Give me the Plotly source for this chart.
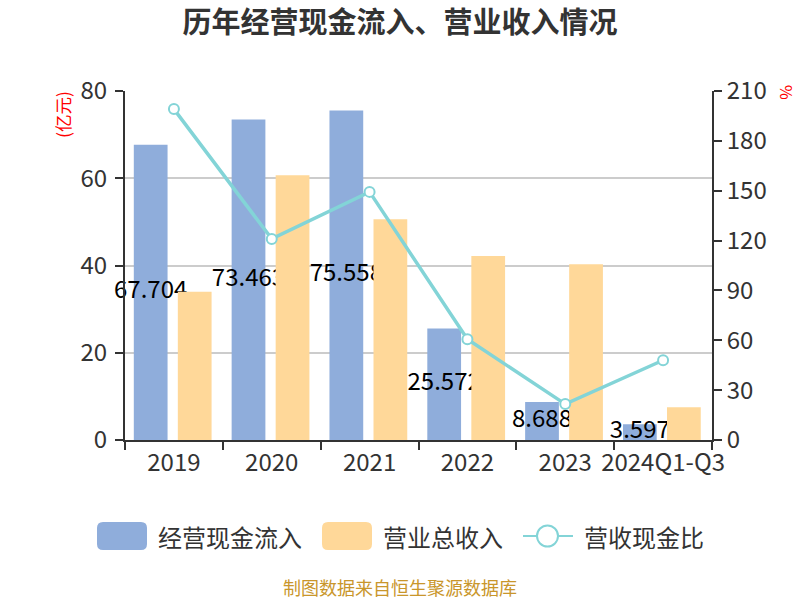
import plotly.graph_objects as go

categories = ["2019", "2020", "2021", "2022", "2023", "2024Q1-Q3"]
cash_inflow = [67.704, 73.463, 75.558, 25.572, 8.688, 3.597]
revenue = [34.0, 60.7, 50.6, 42.2, 40.3, 7.5]
ratio = [199.1, 121.0, 149.3, 60.6, 21.6, 48.0]

BLUE = "#8faddb"
ORANGE = "#ffd899"
TEAL = "#83d4d7"
FONT = "Noto Sans CJK SC"
AXIS = "#333333"

idx = list(range(len(categories)))
BAR_W = 0.345

fig = go.Figure()

fig.add_trace(go.Bar(
    x=idx, y=cash_inflow, width=BAR_W, offset=-0.41,
    marker=dict(color=BLUE, line=dict(width=0)), name="经营现金流入",
    yaxis="y", showlegend=False,
))
fig.add_trace(go.Scatter(
    x=[i - 0.41 + BAR_W / 2 for i in idx], y=[v / 2 for v in cash_inflow],
    text=[f"{v:g}" for v in cash_inflow], mode="text",
    textfont=dict(size=24, color="#000000", family=FONT),
    textposition="middle center", yaxis="y", showlegend=False, cliponaxis=False,
    hoverinfo="skip",
))
fig.add_trace(go.Bar(
    x=idx, y=revenue, width=BAR_W, offset=0.04,
    marker=dict(color=ORANGE, line=dict(width=0)), name="营业总收入",
    yaxis="y2", showlegend=False,
))
fig.add_trace(go.Scatter(
    x=idx, y=ratio, mode="lines+markers", name="营收现金比",
    line=dict(color=TEAL, width=3.5),
    marker=dict(symbol="circle", size=10, color="#ffffff", line=dict(color=TEAL, width=2)),
    yaxis="y3", showlegend=False, cliponaxis=False,
))

L, R, T, B = 125, 88, 91, 160
PW, PH = 800 - L - R, 600 - T - B


def px(x):
    return (x - L) / PW


def py(y):
    return (600 - B - y) / PH


def rrect(x0, y0, x1, y1, r):
    rx, ry = r / PW, r / PH
    X0, X1 = px(x0), px(x1)
    Yt, Yb = py(y0), py(y1)
    return (f"M{X0+rx},{Yt} L{X1-rx},{Yt} Q{X1},{Yt} {X1},{Yt-ry} "
            f"L{X1},{Yb+ry} Q{X1},{Yb} {X1-rx},{Yb} L{X0+rx},{Yb} "
            f"Q{X0},{Yb} {X0},{Yb+ry} L{X0},{Yt-ry} Q{X0},{Yt} {X0+rx},{Yt} Z")


shapes = [
    dict(type="path", xref="paper", yref="paper", path=rrect(97, 522, 147, 550, 6),
         fillcolor=BLUE, line=dict(width=0)),
    dict(type="path", xref="paper", yref="paper", path=rrect(322, 522, 372, 550, 6),
         fillcolor=ORANGE, line=dict(width=0)),
    dict(type="line", xref="paper", yref="paper", x0=px(523), x1=px(573), y0=py(536), y1=py(536),
         line=dict(color=TEAL, width=2)),
    dict(type="circle", xref="paper", yref="paper", x0=px(537), x1=px(558), y0=py(525.5), y1=py(546.5),
         fillcolor="#ffffff", line=dict(color=TEAL, width=2)),
]

legend_labels = [("经营现金流入", 156), ("营业总收入", 381), ("营收现金比", 582)]
annotations = []
for txt, x in legend_labels:
    annotations.append(dict(text=txt, xref="paper", yref="paper", x=px(x), y=py(536),
                            xanchor="left", yanchor="middle", showarrow=False,
                            font=dict(size=24, color="#333333", family=FONT)))
annotations += [
    dict(text="(亿元)", xref="paper", yref="paper", x=px(63), y=py(115), textangle=-90,
         xanchor="center", yanchor="middle", showarrow=False,
         font=dict(size=17.5, color="#ff0000", family=FONT)),
    dict(text="%", xref="paper", yref="paper", x=px(787), y=py(92), textangle=90,
         xanchor="center", yanchor="middle", showarrow=False,
         font=dict(size=16, color="#ff0000", family=FONT)),
    dict(text="制图数据来自恒生聚源数据库", xref="paper", yref="paper", x=px(400), y=py(587),
         xanchor="center", yanchor="middle", showarrow=False,
         font=dict(size=18, color="#c9962b", family=FONT)),
]

fig.update_layout(
    width=800, height=600,
    margin=dict(l=L, r=R, t=T, b=B, pad=0),
    paper_bgcolor="#ffffff", plot_bgcolor="#ffffff",
    title=dict(text="<b>历年经营现金流入、营业收入情况</b>", x=0.5, xanchor="center",
               y=1 - 23 / 600, yanchor="middle",
               font=dict(size=29, color="#333333", family=FONT)),
    font=dict(family=FONT, color="#333333"),
    xaxis=dict(range=[-0.5, 5.5], tickmode="array", tickvals=idx, ticktext=categories,
               ticks="outside", ticklen=0, tickwidth=2, tickcolor=AXIS,
               minor=dict(tickmode="array", tickvals=[i - 0.5 for i in range(len(categories) + 1)],
                          ticks="outside", ticklen=8, tickwidth=2, tickcolor=AXIS, showgrid=False),
               showline=True, linecolor=AXIS, linewidth=2, showgrid=False, zeroline=False,
               tickfont=dict(size=24, color="#333333", family=FONT), fixedrange=True),
    yaxis=dict(range=[0, 80], tickmode="linear", tick0=0, dtick=20,
               ticks="outside", ticklen=8, tickwidth=2, tickcolor=AXIS,
               showline=True, linecolor=AXIS, linewidth=2, ticklabelstandoff=3,
               showgrid=True, gridcolor="#cccccc", gridwidth=2, zeroline=False,
               tickfont=dict(size=24, color="#333333", family=FONT)),
    yaxis2=dict(range=[0, 80], overlaying="y", visible=False, showgrid=False, zeroline=False),
    yaxis3=dict(range=[0, 210], overlaying="y", side="right", tickmode="linear", tick0=0, dtick=30,
                ticks="outside", ticklen=8, tickwidth=2, tickcolor=AXIS,
                showline=True, linecolor=AXIS, linewidth=2, showgrid=False, zeroline=False,
                tickfont=dict(size=24, color="#333333", family=FONT)),
    shapes=shapes,
    annotations=annotations,
    showlegend=False,
)

fig.write_html("out.html")
